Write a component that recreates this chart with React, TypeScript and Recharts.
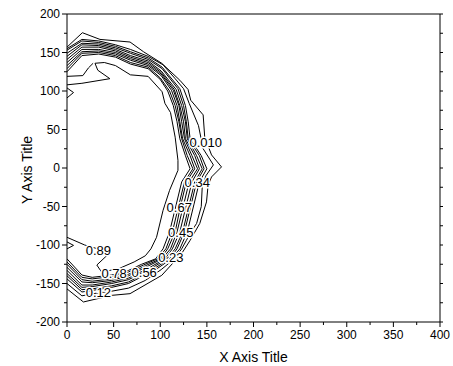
import { ComposedChart, Scatter, XAxis, YAxis } from 'recharts';

type Pt = [number, number];

// axis ticks (major every 50, minor every 25)
const xTicks = [0, 25, 50, 75, 100, 125, 150, 175, 200, 225, 250, 275, 300, 325, 350, 375, 400];
const yTicks = [-200, -175, -150, -125, -100, -75, -50, -25, 0, 25, 50, 75, 100, 125, 150, 175, 200];

// outermost contour (0.010)
const level010: Pt[] = [
  [0, 157], [16.5, 175.7], [35.4, 167], [67.6, 163.6], [82, 151], [101.6, 136], [121, 114],
  [129.8, 102], [132.7, 88], [146, 69], [147.7, 40], [155, 17], [165.7, 1.4], [155, -11.6],
  [151.3, -22.4], [149.6, -44], [142.4, -72], [132, -94], [123, -111], [101.6, -139.4],
  [67.6, -163.2], [48, -165.4], [17.6, -174], [0, -157],
];

// 0.12 contour
const level012: Pt[] = [
  [0, 155], [16, 167], [34, 165], [52, 160], [68, 154], [87, 145], [103, 134], [116, 116],
  [125, 103], [131, 84], [141, 55], [146, 25], [157, 4], [149, -10], [145, -25], [144, -50],
  [139, -72], [133, -83], [128, -94], [123, -105], [115, -118], [101, -132], [84, -146],
  [66, -156], [48, -160], [34, -162], [16, -166], [0, -150],
];

// tightly packed band of contours
const band1: Pt[] = [
  [0, 153], [16, 165], [34, 163], [52, 158], [68, 151], [87, 143], [102, 131], [121, 103], [127, 81],
  [130, 60], [132, 38], [144, 16], [150, -1], [142, -18], [136, -48], [129, -83], [121, -105],
  [112, -118], [95, -132], [66, -150], [48, -155], [27, -159], [16, -161], [0, -144],
];
const band2: Pt[] = [
  [0, 149], [16, 162], [34, 161], [52, 156], [68, 149], [87, 141], [102, 129], [119, 103], [125, 81],
  [128, 60], [130, 38], [142, 16], [147, -1], [139, -18], [133, -48], [126, -83], [118, -105],
  [110, -118], [93, -131], [66, -148], [48, -153], [27, -157], [16, -158], [0, -140],
];
const band3: Pt[] = [
  [0, 145], [16, 160], [34, 159], [52, 154], [68, 146], [87, 139], [101, 126], [117, 102], [123, 81],
  [127, 60], [129, 38], [139, 16], [145, -1], [137, -18], [131, -48], [124, -83], [116, -105],
  [107, -118], [91, -130], [66, -145], [48, -150], [27, -154], [16, -155], [0, -137],
];
const band4: Pt[] = [
  [0, 141], [16, 157], [34, 157], [52, 152], [68, 144], [87, 137], [101, 124], [115, 102], [121, 81],
  [125, 60], [127, 38], [137, 16], [142, -1], [134, -18], [128, -48], [121, -83], [113, -105],
  [105, -118], [89, -129], [66, -143], [48, -148], [27, -152], [16, -152], [0, -133],
];
const band5: Pt[] = [
  [0, 137], [16, 154], [34, 154], [52, 150], [68, 142], [87, 135], [101, 122], [114, 101], [120, 81],
  [123, 60], [126, 38], [134, 16], [140, -1], [131, -18], [125, -48], [118, -83], [111, -105],
  [102, -118], [86, -128], [66, -140], [48, -146], [27, -149], [16, -148], [0, -129],
];
const band6: Pt[] = [
  [0, 133], [16, 151], [34, 152], [52, 148], [68, 140], [87, 133], [101, 120], [112, 101], [118, 81],
  [121, 60], [124, 38], [132, 16], [137, -1], [128, -18], [122, -48], [116, -83], [108, -105],
  [100, -118], [84, -127], [66, -138], [48, -144], [27, -147], [16, -145], [0, -125],
];
const band7: Pt[] = [
  [0, 129], [16, 149], [34, 150], [52, 146], [68, 137], [87, 131], [100, 117], [110, 100], [116, 81],
  [120, 60], [123, 38], [129, 16], [135, -1], [126, -18], [120, -48], [113, -83], [106, -105],
  [97, -118], [82, -126], [66, -135], [48, -141], [27, -144], [16, -142], [0, -122],
];
const band8: Pt[] = [
  [0, 125], [16, 146], [34, 148], [52, 144], [68, 135], [87, 129], [100, 115], [108, 100], [114, 81],
  [118, 60], [121, 38], [127, 16], [132, -1], [123, -18], [117, -48], [110, -83], [103, -105],
  [95, -118], [80, -125], [66, -133], [48, -139], [27, -142], [16, -139], [0, -118],
];

// inner contours (0.89 and small pieces at the left edge)
const innerLine: Pt[] = [
  [0, -90], [19, -100], [33, -105], [46, -110], [32, -126], [37, -135], [55, -131], [72, -122],
  [84, -114], [90, -105], [96, -90], [103, -55], [110, -29], [119, -3], [119, 10], [116, 40],
  [111, 72], [105, 84], [102, 99], [87, 119], [68, 121], [52, 133], [40, 137], [30, 136],
  [33, 127], [46, 116], [16, 110], [0, 108],
];
const innerStub: Pt[] = [[0, 119], [17, 120], [23, 130], [28, 136]];
const notchTop: Pt[] = [[0, 104], [7, 98], [0, 91]];
const notchBottom: Pt[] = [[0, -96], [7, -100.5], [0, -105]];

const contours: Pt[][] = [
  level010, level012, band1, band2, band3, band4, band5, band6, band7, band8,
  innerLine, innerStub, notchTop, notchBottom,
];

const labelText = ['0.010', '0.34', '0.67', '0.45', '0.23', '0.56', '0.78', '0.89', '0.12'];
const labelX = [148.8, 139.7, 120.4, 122, 111.3, 82.8, 50.6, 33.7, 33.7];
const labelY = [33.6, -18, -50.6, -83.1, -115.6, -135.1, -137.2, -106.9, -161.1];

const FONT = 'Liberation Sans, Arial, sans-serif';

const toRows = (pts: Pt[]) => pts.map(([x, y]) => ({ x, y }));
const labelRows = labelText.map((text, i) => ({ x: labelX[i], y: labelY[i], text }));

function BottomTick({ x, y, payload }: any) {
  const major = payload.value % 50 === 0;
  const ay = y - 7;
  return (
    <g>
      <line x1={x} x2={x} y1={ay} y2={ay + (major ? 5 : 3)} stroke="#000" />
      {major && (
        <text x={x} y={ay + 8} dy="0.71em" textAnchor="middle" fontSize={12} fontFamily={FONT} fill="#000">
          {payload.value}
        </text>
      )}
    </g>
  );
}

function LeftTick({ x, y, payload }: any) {
  const major = payload.value % 50 === 0;
  const ax = x + 7;
  return (
    <g>
      <line x1={ax - (major ? 5 : 3)} x2={ax} y1={y} y2={y} stroke="#000" />
      {major && (
        <text x={x} y={y} dy="0.355em" textAnchor="end" fontSize={12} fontFamily={FONT} fill="#000">
          {payload.value}
        </text>
      )}
    </g>
  );
}

function TopTick({ x, y }: any) {
  return <line x1={x} x2={x} y1={y} y2={y + 3} stroke="#000" />;
}

function RightTick({ x, y }: any) {
  return <line x1={x - 3} x2={x} y1={y} y2={y} stroke="#000" />;
}

function YTitle(props: any) {
  const vb = props.viewBox;
  const cx = 24;
  const cy = vb ? vb.y + vb.height / 2 + 2 : 162;
  return (
    <text x={cx} y={cy} transform={`rotate(-90 ${cx} ${cy})`} textAnchor="middle" fontSize={14} fontFamily={FONT} fill="#000">
      Y Axis Title
    </text>
  );
}

function ContourLabel(props: any) {
  const { cx, cy, payload } = props;
  return (
    <text
      x={cx}
      y={cy}
      dy="0.36em"
      textAnchor="middle"
      fontSize={13}
      fontFamily={FONT}
      fill="#000"
      stroke="#fff"
      strokeWidth={3}
      paintOrder="stroke"
    >
      {payload.text}
    </text>
  );
}

export default function App() {
  return (
    <div style={{ position: 'absolute', left: 8, top: 8, width: 445, height: 358 }}>
      <ComposedChart width={445} height={358} margin={{ top: 0, right: 5, bottom: 0, left: 0 }}>
        <XAxis
          xAxisId={0}
          dataKey="x"
          type="number"
          domain={[0, 400]}
          ticks={xTicks}
          interval={0}
          allowDataOverflow
          height={44}
          axisLine={{ stroke: '#000' }}
          tickLine={false}
          tickSize={5}
          tickMargin={2}
          tick={<BottomTick />}
          label={{ value: 'X Axis Title', position: 'insideBottom', offset: 4, fontSize: 14, fill: '#000', fontFamily: FONT }}
        />
        <XAxis
          xAxisId="top"
          orientation="top"
          type="number"
          domain={[0, 400]}
          ticks={xTicks}
          interval={0}
          allowDataOverflow
          height={6}
          axisLine={{ stroke: '#000' }}
          tickLine={false}
          tickSize={3}
          tickMargin={0}
          tick={<TopTick />}
        />
        <YAxis
          yAxisId={0}
          dataKey="y"
          type="number"
          domain={[-200, 200]}
          ticks={yTicks}
          interval={0}
          allowDataOverflow
          width={59}
          axisLine={{ stroke: '#000' }}
          tickLine={false}
          tickSize={5}
          tickMargin={2}
          tick={<LeftTick />}
          label={{ content: <YTitle /> }}
        />
        <YAxis
          yAxisId="right"
          orientation="right"
          type="number"
          domain={[-200, 200]}
          ticks={yTicks}
          interval={0}
          allowDataOverflow
          width={8}
          axisLine={{ stroke: '#000' }}
          tickLine={false}
          tickSize={3}
          tickMargin={0}
          tick={<RightTick />}
        />
        {contours.map((pts, i) => (
          <Scatter
            key={i}
            data={toRows(pts)}
            line={{ stroke: '#000', strokeWidth: 1 }}
            shape={() => <g />}
            fill="none"
            isAnimationActive={false}
          />
        ))}
        <Scatter data={labelRows} shape={<ContourLabel />} isAnimationActive={false} />
      </ComposedChart>
    </div>
  );
}
